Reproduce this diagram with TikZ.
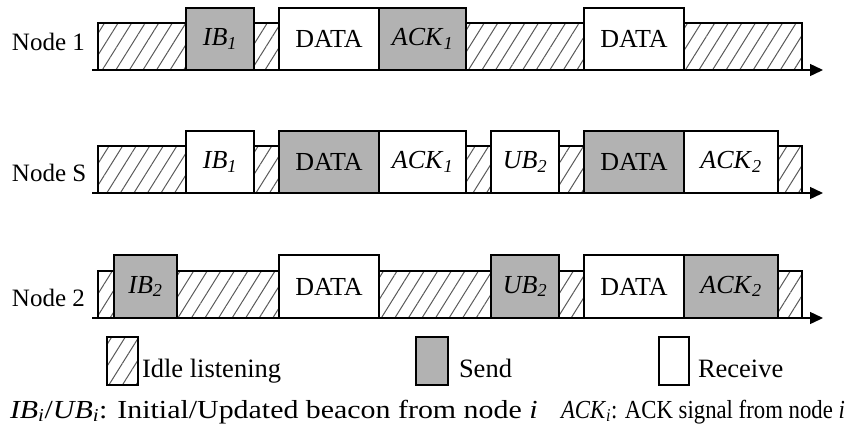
\documentclass[tikz,border=0pt]{standalone}
\usepackage{fontspec}
\setmainfont{Liberation Serif}
\usetikzlibrary{arrows.meta,patterns.meta}

% one time slot: name, style, left x, right x, bottom y, height, label
\newcommand{\slot}[7]{%
  \node[#2, minimum width={(#4-#3)*1pt}, minimum height={#6*1pt}, anchor=south west] (#1) at (#3,#5) {#7};}
\newcommand{\lbl}[2]{\textit{#1}\textsubscript{\textit{#2}}}

\begin{document}
\begin{tikzpicture}[x=1pt,y=-1pt,
  every node/.style={inner sep=0pt, outer sep=0pt, font=\fontsize{26}{30}\selectfont},
  idle/.style={draw=black, line width=1.3pt,
    pattern={Lines[angle=58, distance=11.5pt, line width=1pt]}, pattern color=black!65},
  sendbox/.style={draw=black, line width=1.3pt, fill=gray!60},
  recvbox/.style={draw=black, line width=1.3pt, fill=white},
  axis/.style={line width=1.4pt, -{Triangle[length=13pt,width=12pt]}},
  rowlabel/.style={anchor=west, font=\fontsize{25}{30}\selectfont},
  legendtext/.style={anchor=base west, font=\fontsize{26.5}{30}\selectfont},
  notetext/.style={anchor=base west, font=\fontsize{26}{30}\selectfont, transform shape}]
\useasboundingbox (0,0) rectangle (845,429);

% ---- Node 1 ----
\node[rowlabel] (n1) at (12,42) {Node 1};
\slot{a1}{idle}{98}{186}{70}{47}{}
\slot{a2}{idle}{254}{279}{70}{47}{}
\slot{a3}{idle}{466}{584}{70}{47}{}
\slot{a4}{idle}{684}{802}{70}{47}{}
\slot{a5}{sendbox}{186}{254}{70}{62}{\lbl{IB}{1}}
\slot{a6}{recvbox}{279}{379}{70}{62}{DATA}
\slot{a7}{sendbox}{379}{466}{70}{62}{\lbl{ACK}{1}}
\slot{a8}{recvbox}{584}{684}{70}{62}{DATA}
\coordinate (t1s) at (92,70);
\coordinate (t1e) at (823,70);
\draw[axis] (t1s) -- (t1e);

% ---- Node S ----
\node[rowlabel] (ns) at (12,173) {Node S};
\slot{b1}{idle}{98}{186}{193}{47}{}
\slot{b2}{idle}{254}{279}{193}{47}{}
\slot{b3}{idle}{466}{491}{193}{47}{}
\slot{b4}{idle}{559}{584}{193}{47}{}
\slot{b5}{idle}{778}{802}{193}{47}{}
\slot{b6}{recvbox}{186}{254}{193}{62}{\lbl{IB}{1}}
\slot{b7}{sendbox}{279}{379}{193}{62}{DATA}
\slot{b8}{recvbox}{379}{466}{193}{62}{\lbl{ACK}{1}}
\slot{b9}{recvbox}{491}{559}{193}{62}{\lbl{UB}{2}}
\slot{b10}{sendbox}{584}{684}{193}{62}{DATA}
\slot{b11}{recvbox}{684}{778}{193}{62}{\lbl{ACK}{2}}
\coordinate (tss) at (92,193);
\coordinate (tse) at (823,193);
\draw[axis] (tss) -- (tse);

% ---- Node 2 ----
\node[rowlabel] (n2) at (12,298) {Node 2};
\slot{c1}{idle}{98}{114}{318}{47}{}
\slot{c2}{idle}{177}{279}{318}{47}{}
\slot{c3}{idle}{379}{491}{318}{47}{}
\slot{c4}{idle}{559}{584}{318}{47}{}
\slot{c5}{idle}{778}{802}{318}{47}{}
\slot{c6}{sendbox}{114}{177}{318}{63}{\lbl{IB}{2}}
\slot{c7}{recvbox}{279}{379}{318}{63}{DATA}
\slot{c8}{sendbox}{491}{559}{318}{63}{\lbl{UB}{2}}
\slot{c9}{recvbox}{584}{684}{318}{63}{DATA}
\slot{c10}{sendbox}{684}{778}{318}{63}{\lbl{ACK}{2}}
\coordinate (t2s) at (92,318);
\coordinate (t2e) at (823,318);
\draw[axis] (t2s) -- (t2e);

% ---- Legend ----
\slot{k1}{idle}{107}{138}{385}{48}{}
\slot{k2}{sendbox}{416}{448}{385}{48}{}
\slot{k3}{recvbox}{659}{689}{385}{48}{}
\node[legendtext] (k1t) at (142,377) {Idle listening};
\node[legendtext] (k2t) at (459,377) {Send};
\node[legendtext] (k3t) at (698,377) {Receive};
\node[notetext, xscale=1.15] (d1) at (10,418) {\lbl{IB}{i}/\lbl{UB}{i}: Initial/Updated beacon from node \textit{i}};
\node[notetext, xscale=0.875] (d2) at (561,418) {\lbl{ACK}{i}: ACK signal from node \textit{i}};
\end{tikzpicture}
\end{document}
